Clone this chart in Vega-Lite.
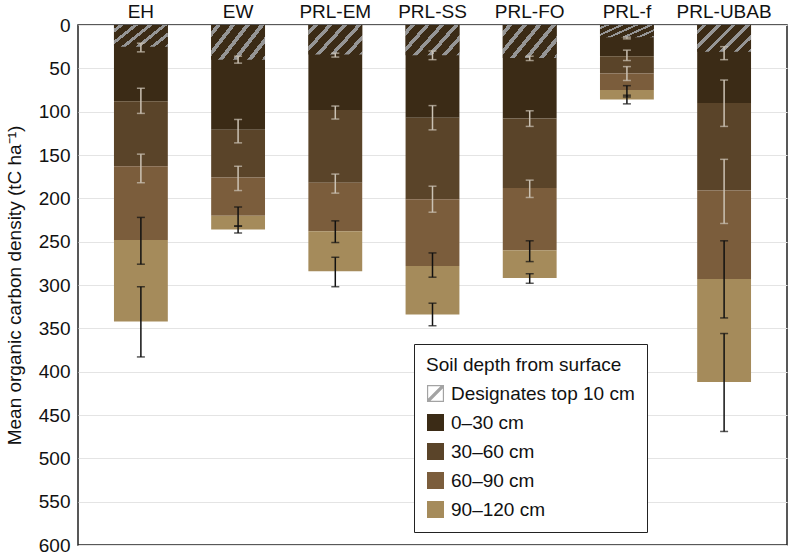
{
  "$schema": "https://vega.github.io/schema/vega-lite/v6.json",
  "autosize": {"type": "none"},
  "padding": {"left": 78, "top": 25, "right": 1, "bottom": 8},
  "width": 709,
  "height": 520,
  "config": {
    "font": "Liberation Sans",
    "view": {"stroke": "#222", "strokeWidth": 1.5},
    "axis": {"domain": false, "ticks": false, "labelColor": "#111", "titleColor": "#111"}
  },
  "data": {
    "values": [
      {"site": "EH", "layer": "Designates top 10 cm", "top": 0, "bottom": 25, "lo": 21, "hi": 31},
      {"site": "EH", "layer": "0–30 cm", "top": 0, "bottom": 88, "lo": 73, "hi": 102},
      {"site": "EH", "layer": "30–60 cm", "top": 88, "bottom": 163, "lo": 149, "hi": 182},
      {"site": "EH", "layer": "60–90 cm", "top": 163, "bottom": 248, "lo": 222, "hi": 276},
      {"site": "EH", "layer": "90–120 cm", "top": 248, "bottom": 342, "lo": 302, "hi": 383},
      {"site": "EW", "layer": "Designates top 10 cm", "top": 0, "bottom": 40, "lo": 36, "hi": 44},
      {"site": "EW", "layer": "0–30 cm", "top": 0, "bottom": 121, "lo": 109, "hi": 136},
      {"site": "EW", "layer": "30–60 cm", "top": 121, "bottom": 176, "lo": 163, "hi": 191},
      {"site": "EW", "layer": "60–90 cm", "top": 176, "bottom": 220, "lo": 210, "hi": 232},
      {"site": "EW", "layer": "90–120 cm", "top": 220, "bottom": 236, "lo": 232, "hi": 240},
      {"site": "PRL-EM", "layer": "Designates top 10 cm", "top": 0, "bottom": 34, "lo": 32.5, "hi": 37},
      {"site": "PRL-EM", "layer": "0–30 cm", "top": 0, "bottom": 98, "lo": 93.5, "hi": 108.5},
      {"site": "PRL-EM", "layer": "30–60 cm", "top": 98, "bottom": 182, "lo": 172, "hi": 194},
      {"site": "PRL-EM", "layer": "60–90 cm", "top": 182, "bottom": 238, "lo": 226, "hi": 251},
      {"site": "PRL-EM", "layer": "90–120 cm", "top": 238, "bottom": 284, "lo": 268, "hi": 302},
      {"site": "PRL-SS", "layer": "Designates top 10 cm", "top": 0, "bottom": 35, "lo": 30, "hi": 40},
      {"site": "PRL-SS", "layer": "0–30 cm", "top": 0, "bottom": 107, "lo": 93, "hi": 121},
      {"site": "PRL-SS", "layer": "30–60 cm", "top": 107, "bottom": 201, "lo": 186, "hi": 216},
      {"site": "PRL-SS", "layer": "60–90 cm", "top": 201, "bottom": 278, "lo": 263, "hi": 291},
      {"site": "PRL-SS", "layer": "90–120 cm", "top": 278, "bottom": 334, "lo": 321, "hi": 347},
      {"site": "PRL-FO", "layer": "Designates top 10 cm", "top": 0, "bottom": 38, "lo": 36, "hi": 41},
      {"site": "PRL-FO", "layer": "0–30 cm", "top": 0, "bottom": 108, "lo": 99, "hi": 117},
      {"site": "PRL-FO", "layer": "30–60 cm", "top": 108, "bottom": 188, "lo": 179, "hi": 199},
      {"site": "PRL-FO", "layer": "60–90 cm", "top": 188, "bottom": 260, "lo": 249, "hi": 273},
      {"site": "PRL-FO", "layer": "90–120 cm", "top": 260, "bottom": 292, "lo": 287, "hi": 298},
      {"site": "PRL-f", "layer": "Designates top 10 cm", "top": 0, "bottom": 14, "lo": 14, "hi": 16},
      {"site": "PRL-f", "layer": "0–30 cm", "top": 0, "bottom": 36, "lo": 29, "hi": 41},
      {"site": "PRL-f", "layer": "30–60 cm", "top": 36, "bottom": 56, "lo": 48, "hi": 64},
      {"site": "PRL-f", "layer": "60–90 cm", "top": 56, "bottom": 75, "lo": 70, "hi": 83},
      {"site": "PRL-f", "layer": "90–120 cm", "top": 75, "bottom": 86, "lo": 81, "hi": 91},
      {"site": "PRL-UBAB", "layer": "Designates top 10 cm", "top": 0, "bottom": 31, "lo": 25, "hi": 40},
      {"site": "PRL-UBAB", "layer": "0–30 cm", "top": 0, "bottom": 90, "lo": 63.5, "hi": 117},
      {"site": "PRL-UBAB", "layer": "30–60 cm", "top": 90, "bottom": 191, "lo": 155, "hi": 229},
      {"site": "PRL-UBAB", "layer": "60–90 cm", "top": 191, "bottom": 293, "lo": 249, "hi": 338},
      {"site": "PRL-UBAB", "layer": "90–120 cm", "top": 293, "bottom": 412, "lo": 356, "hi": 469}
    ]
  },
  "encoding": {
    "x": {
      "field": "site", "type": "nominal", "sort": null,
      "scale": {"paddingInner": 0.446, "paddingOuter": 0.37},
      "axis": {"orient": "top", "title": null, "labelAngle": 0, "labelFontSize": 19, "labelPadding": 4}
    },
    "y": {
      "field": "top", "type": "quantitative",
      "scale": {"domain": [0, 600], "reverse": true, "nice": false},
      "axis": {
        "title": "Mean organic carbon density (tC ha⁻¹)",
        "values": [0, 50, 100, 150, 200, 250, 300, 350, 400, 450, 500, 550, 600],
        "labelFontSize": 19, "labelPadding": 8, "titleFontSize": 19, "titleFontWeight": "normal",
        "titlePadding": 14, "gridColor": "#e4e4e4", "gridWidth": 1
      }
    }
  },
  "layer": [
    {
      "transform": [{"filter": "datum.layer !== 'Designates top 10 cm'"}],
      "mark": {"type": "bar"},
      "encoding": {
        "y2": {"field": "bottom"},
        "color": {
          "field": "layer", "type": "nominal",
          "scale": {
            "domain": ["Designates top 10 cm", "0–30 cm", "30–60 cm", "60–90 cm", "90–120 cm"],
            "range": ["#a3a3a3", "#3b2b16", "#5a4429", "#7b5d3c", "#a58b5b"]
          },
          "legend": {
            "title": "Soil depth from surface\u00a0\u00a0\u00a0\u00a0\u00a0\u00a0\u00a0\u00a0\u00a0\u00a0\u00a0\u00a0\u00a0\u00a0\u00a0\u00a0",
            "orient": "none", "legendX": 336, "legendY": 319,
            "strokeColor": "#222", "fillColor": "#ffffff", "padding": 12,
            "titleFontSize": 19, "titleFontWeight": "normal", "titleColor": "#111", "titlePadding": 9,
            "titleLimit": 500, "labelLimit": 400,
            "labelFontSize": 19, "labelColor": "#111", "labelOffset": 6,
            "symbolSize": 290, "symbolStrokeWidth": 0, "symbolOpacity": 1,
            "rowPadding": 9
          }
        }
      }
    },
    {
      "transform": [{"filter": "false"}],
      "mark": {"type": "point", "filled": true, "opacity": 1},
      "encoding": {
        "color": {
          "field": "layer", "type": "nominal",
          "legend": {
            "title": "Soil depth from surface\u00a0\u00a0\u00a0\u00a0\u00a0\u00a0\u00a0\u00a0\u00a0\u00a0\u00a0\u00a0\u00a0\u00a0\u00a0\u00a0",
            "orient": "none", "legendX": 336, "legendY": 319,
            "strokeColor": "#222", "fillColor": "#ffffff", "padding": 12,
            "titleFontSize": 19, "titleFontWeight": "normal", "titleColor": "#111", "titlePadding": 9,
            "titleLimit": 500, "labelLimit": 400,
            "labelFontSize": 19, "labelColor": "#111", "labelOffset": 6,
            "symbolSize": 290, "symbolStrokeWidth": 0, "symbolOpacity": 1,
            "rowPadding": 9
          }
        },
        "shape": {
          "field": "layer", "type": "nominal",
          "scale": {
            "domain": ["Designates top 10 cm", "0–30 cm", "30–60 cm", "60–90 cm", "90–120 cm"],
            "range": [
              "M-1,-1H1V1H-1Z M-0.86,-0.86V0.86H0.86V-0.86Z M-1,0.72L0.72,-1L1,-1L1,-0.72L-0.72,1L-1,1Z",
              "square", "square", "square", "square"
            ]
          },
          "legend": {
            "title": "Soil depth from surface\u00a0\u00a0\u00a0\u00a0\u00a0\u00a0\u00a0\u00a0\u00a0\u00a0\u00a0\u00a0\u00a0\u00a0\u00a0\u00a0",
            "orient": "none", "legendX": 336, "legendY": 319,
            "strokeColor": "#222", "fillColor": "#ffffff", "padding": 12,
            "titleFontSize": 19, "titleFontWeight": "normal", "titleColor": "#111", "titlePadding": 9,
            "titleLimit": 500, "labelLimit": 400,
            "labelFontSize": 19, "labelColor": "#111", "labelOffset": 6,
            "symbolSize": 290, "symbolStrokeWidth": 0, "symbolOpacity": 1,
            "rowPadding": 9
          }
        }
      }
    },
    {
      "transform": [{"filter": "datum.layer === 'Designates top 10 cm'"}],
      "mark": {
        "type": "bar",
        "fill": {"gradient": "linear", "x1": 0, "y1": 0, "x2": 1.2, "y2": 0.6,
          "stops": [
            {"offset": 0, "color": "#3b2b16"}, {"offset": 0.06, "color": "#3b2b16"},
            {"offset": 0.06, "color": "#959595"}, {"offset": 0.12, "color": "#959595"},
            {"offset": 0.12, "color": "#3b2b16"}, {"offset": 0.24, "color": "#3b2b16"},
            {"offset": 0.24, "color": "#959595"}, {"offset": 0.30, "color": "#959595"},
            {"offset": 0.30, "color": "#3b2b16"}, {"offset": 0.42, "color": "#3b2b16"},
            {"offset": 0.42, "color": "#959595"}, {"offset": 0.48, "color": "#959595"},
            {"offset": 0.48, "color": "#3b2b16"}, {"offset": 0.60, "color": "#3b2b16"},
            {"offset": 0.60, "color": "#959595"}, {"offset": 0.66, "color": "#959595"},
            {"offset": 0.66, "color": "#3b2b16"}, {"offset": 0.78, "color": "#3b2b16"},
            {"offset": 0.78, "color": "#959595"}, {"offset": 0.84, "color": "#959595"},
            {"offset": 0.84, "color": "#3b2b16"}, {"offset": 0.96, "color": "#3b2b16"},
            {"offset": 0.96, "color": "#959595"}, {"offset": 1, "color": "#959595"}
          ]}
      },
      "encoding": {"y2": {"field": "bottom"}}
    },
    {
      "mark": {"type": "rule", "strokeWidth": 1.5},
      "encoding": {
        "y": {"field": "lo", "type": "quantitative"},
        "y2": {"field": "hi"},
        "color": {"condition": {"test": "datum.layer === '60–90 cm' || datum.layer === '90–120 cm'", "value": "#111111"}, "value": "#cbc2b4"}
      }
    },
    {
      "mark": {"type": "tick", "size": 8, "thickness": 1.5},
      "encoding": {
        "y": {"field": "lo", "type": "quantitative"},
        "color": {"condition": {"test": "datum.layer === '60–90 cm' || datum.layer === '90–120 cm'", "value": "#111111"}, "value": "#cbc2b4"}
      }
    },
    {
      "mark": {"type": "tick", "size": 8, "thickness": 1.5},
      "encoding": {
        "y": {"field": "hi", "type": "quantitative"},
        "color": {"condition": {"test": "datum.layer === '60–90 cm' || datum.layer === '90–120 cm'", "value": "#111111"}, "value": "#cbc2b4"}
      }
    }
  ]
}
